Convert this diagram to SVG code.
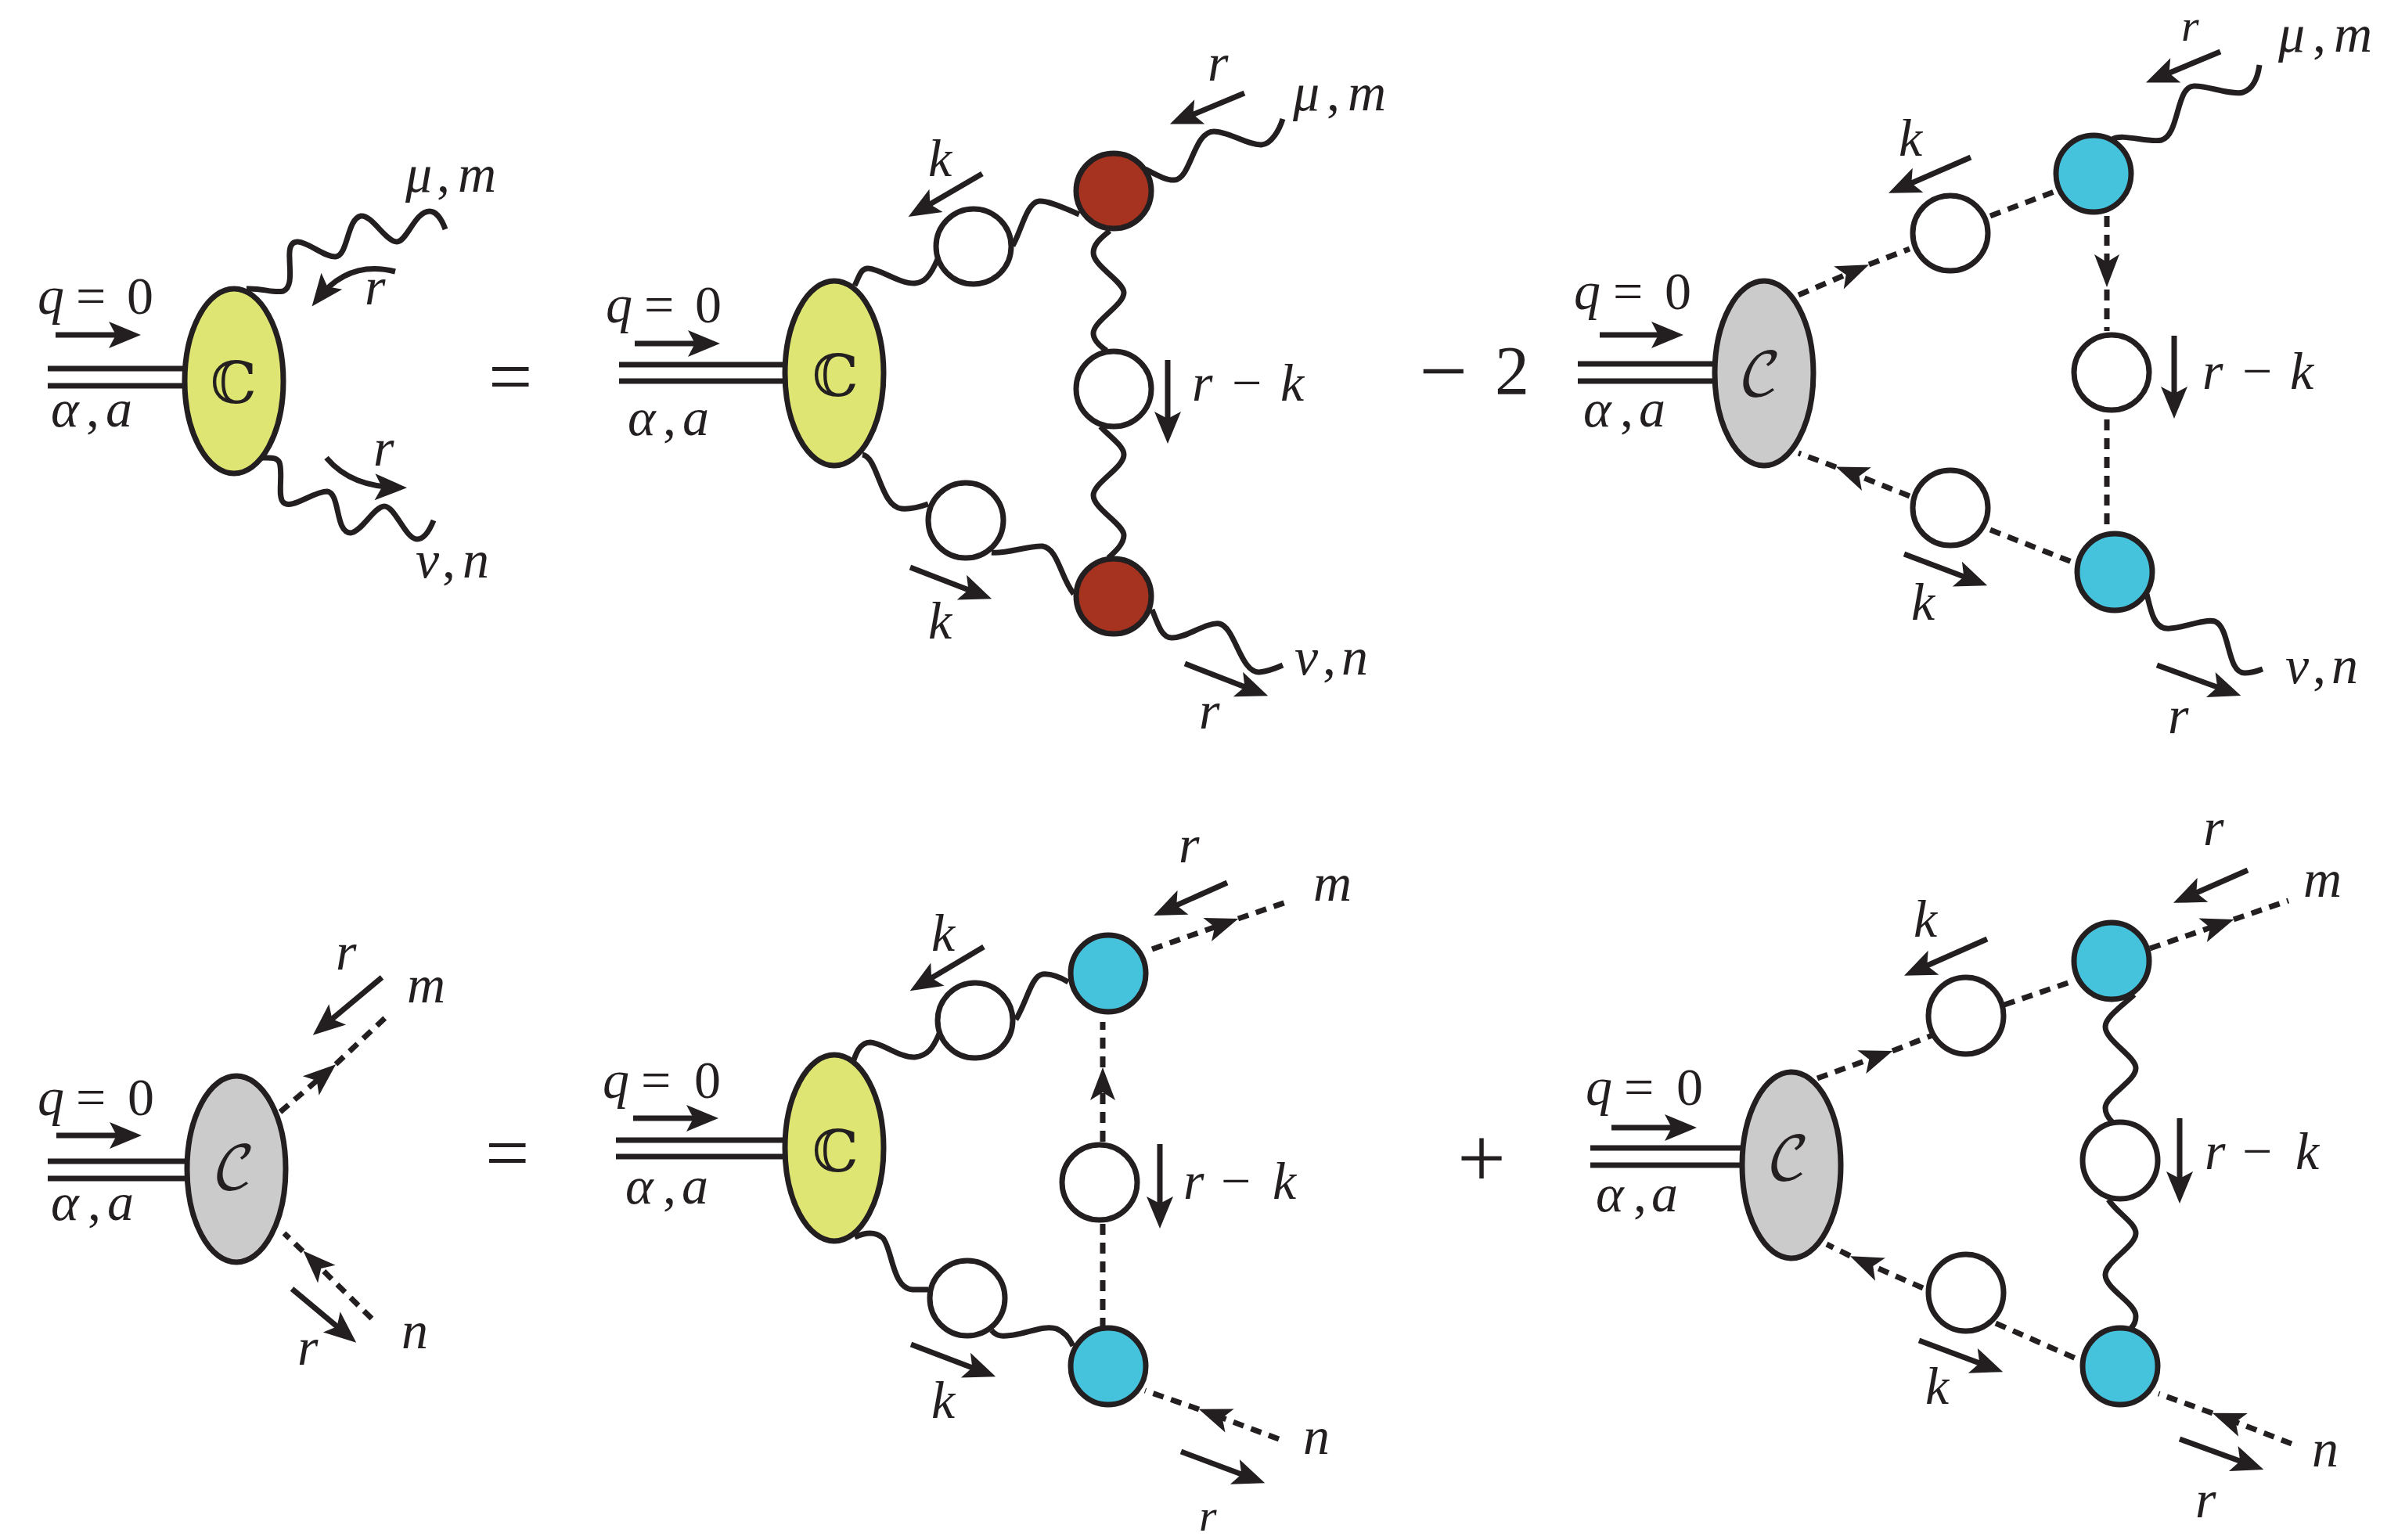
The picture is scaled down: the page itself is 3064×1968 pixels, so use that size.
<svg xmlns="http://www.w3.org/2000/svg" width="3064" height="1968" viewBox="0 0 3064 1968">
<style>
text{font-family:"Liberation Serif",serif;font-size:68px;fill:#231f20}
.i{font-style:italic}
.big{font-size:100px}
.op{font-size:110px;text-anchor:middle}
.two{font-size:88px}
.edge{font-size:58px}
.dbl{font-family:"DejaVu Math TeX Gyre","DejaVu Sans",sans-serif;font-size:74px;text-anchor:middle}
.cal{font-family:"DejaVu Math TeX Gyre","DejaVu Serif",serif;font-size:76px;text-anchor:middle}
path,line{fill:none;stroke:#231f20;stroke-width:7}
.d{stroke-dasharray:14 10}
.a{marker-end:url(#head)}
.da{marker-end:url(#dhead)}
.mh{fill:#231f20;stroke:none}
.y{fill:#dee572;stroke:#231f20;stroke-width:7}
.g{fill:#cbcbcb;stroke:#231f20;stroke-width:7}
.w{fill:#fff;stroke:#231f20;stroke-width:7}
.rd{fill:#a5331f;stroke:#231f20;stroke-width:7}
.b{fill:#45c2dc;stroke:#231f20;stroke-width:7}
</style>
<defs>
<marker id="head" markerUnits="userSpaceOnUse" markerWidth="42" markerHeight="36" refX="29" refY="17" orient="auto" overflow="visible"><path class="mh" d="M41 17L0 0L9 17L0 34z"/></marker>
<marker id="dhead" markerUnits="userSpaceOnUse" markerWidth="44" markerHeight="34" refX="30" refY="16" orient="auto" overflow="visible"><path class="mh" d="M42 16L0 0L10 16L0 32z"/></marker>
</defs>
<rect width="3064" height="1968" fill="#fff"/>
<g id="connectors">
<!-- panel 1 -->
<line x1="61" y1="471" x2="236" y2="471"/><line x1="61" y1="493" x2="236" y2="493"/>
<path d="M315 369C335 368 350 375 362 372C374 367 370 345 370 330C369 315 373 308 381 309C395 310 415 329 429 328C445 326 443 280 461 276C475 274 493 309 507 309C520 309 530 270 549 270C558 270 565 282 569 293"/>
<path d="M335 585C345 585 354 584 357 591C362 605 354 635 362 642C372 652 400 628 418 628C435 630 428 681 448 681C462 680 478 647 491 647C505 647 518 689 533 689C543 689 550 675 554 665"/>
<line class="a" x1="71" y1="428" x2="168" y2="428"/>
<path class="a" d="M505 347C470 338 435 345 406 382"/>
<path class="a" d="M417 585C440 612 470 622 508 623"/>
<!-- panel 2 -->
<line x1="791" y1="466" x2="1000" y2="466"/><line x1="791" y1="487" x2="1000" y2="487"/>
<path d="M1092 365C1098 353 1100 342 1110 343C1125 344 1150 363 1169 362C1180 361 1188 355 1198 331"/>
<path d="M1294 314C1305 295 1312 258 1328 257C1340 256 1365 268 1379 274"/>
<path d="M1463 216C1475 222 1490 231 1501 230C1522 228 1525 168 1551 168C1570 168 1595 186 1612 185C1625 184 1635 165 1639 152"/>
<path d="M1418 295C1405 305 1397 313 1397 323C1397 340 1436 360 1436 374C1436 390 1397 410 1397 426C1397 435 1405 442 1414 448"/>
<path d="M1406 545C1420 560 1436 570 1436 581C1436 598 1397 617 1397 633C1397 650 1436 670 1436 684C1436 695 1425 705 1416 713"/>
<path d="M1102 581C1122 584 1125 648 1152 650C1165 651 1175 648 1186 644"/>
<path d="M1267 706C1285 708 1315 697 1332 698C1352 701 1355 738 1372 759"/>
<path d="M1472 779C1480 800 1485 815 1497 815C1515 816 1540 795 1558 797C1578 801 1585 860 1609 859C1620 858 1630 854 1639 850"/>
<line class="a" x1="811" y1="439" x2="908" y2="439"/>
<line class="a" x1="1255" y1="222" x2="1171" y2="271"/>
<line class="a" x1="1590" y1="119" x2="1506" y2="154"/>
<line class="a" x1="1492" y1="460" x2="1492" y2="555"/>
<line class="a" x1="1163" y1="725" x2="1256" y2="761"/>
<line class="a" x1="1514" y1="848" x2="1609" y2="885"/>
<!-- panel 3 -->
<line x1="2016" y1="465" x2="2192" y2="465"/><line x1="2016" y1="487" x2="2192" y2="487"/>
<line class="d da" x1="2298" y1="377" x2="2377" y2="343"/><line class="d" x1="2388" y1="338" x2="2440" y2="318"/>
<line class="d" x1="2543" y1="276" x2="2630" y2="243"/>
<line class="d da" x1="2692" y1="276" x2="2692" y2="355"/><line class="d" x1="2692" y1="370" x2="2692" y2="423"/>
<line class="d" x1="2692" y1="536" x2="2692" y2="677"/>
<line class="d" x1="2543" y1="677" x2="2652" y2="720"/>
<line class="d da" x1="2440" y1="634" x2="2357" y2="601"/><line class="d" x1="2346" y1="597" x2="2298" y2="579"/>
<path d="M2699 178C2712 170 2745 183 2762 179C2785 172 2780 111 2803 110C2820 109 2850 122 2866 118C2880 113 2885 98 2887 83"/>
<path d="M2743 759C2748 780 2752 802 2768 803C2785 805 2815 790 2830 794C2850 802 2845 860 2868 860C2878 860 2885 857 2891 855"/>
<line class="a" x1="2044" y1="428" x2="2139" y2="428"/>
<line class="a" x1="2518" y1="201" x2="2424" y2="242"/>
<line class="a" x1="2837" y1="66" x2="2753" y2="101"/>
<line class="a" x1="2778" y1="429" x2="2778" y2="523"/>
<line class="a" x1="2433" y1="708" x2="2528" y2="744"/>
<line class="a" x1="2756" y1="850" x2="2852" y2="885"/>
<!-- panel 4 -->
<line x1="61" y1="1484" x2="238" y2="1484"/><line x1="61" y1="1506" x2="238" y2="1506"/>
<line class="d da" x1="358" y1="1421" x2="420" y2="1368"/><line class="d" x1="429" y1="1360" x2="494" y2="1299"/>
<line class="d da" x1="475" y1="1685" x2="396" y2="1607"/><line class="d" x1="387" y1="1599" x2="363" y2="1576"/>
<line class="a" x1="72" y1="1451" x2="169" y2="1451"/>
<line class="a" x1="488" y1="1249" x2="409" y2="1315"/>
<line class="a" x1="373" y1="1647" x2="446" y2="1708"/>
<!-- panel 5 -->
<line x1="787" y1="1457" x2="1000" y2="1457"/><line x1="787" y1="1478" x2="1000" y2="1478"/>
<path d="M1088 1364C1093 1347 1098 1332 1112 1332C1128 1333 1150 1352 1169 1351C1185 1349 1192 1340 1200 1321"/>
<path d="M1298 1303C1312 1280 1318 1247 1332 1245C1342 1244 1355 1249 1365 1255"/>
<path d="M1092 1581C1105 1575 1118 1573 1128 1582C1140 1595 1140 1647 1166 1648L1186 1648"/>
<path d="M1267 1700C1275 1710 1285 1707 1295 1706C1315 1703 1335 1693 1350 1698C1360 1702 1367 1711 1371 1720"/>
<line class="d da" x1="1472" y1="1213" x2="1571" y2="1178"/><line class="d" x1="1582" y1="1174" x2="1649" y2="1151"/>
<line class="d da" x1="1634" y1="1839" x2="1543" y2="1805"/><line class="d" x1="1532" y1="1801" x2="1463" y2="1777"/>
<line class="d da" x1="1409" y1="1459" x2="1409" y2="1376"/><line class="d" x1="1409" y1="1364" x2="1409" y2="1306"/>
<line class="d" x1="1409" y1="1564" x2="1409" y2="1697"/>
<line class="a" x1="809" y1="1429" x2="906" y2="1429"/>
<line class="a" x1="1257" y1="1210" x2="1173" y2="1260"/>
<line class="a" x1="1568" y1="1128" x2="1485" y2="1165"/>
<line class="a" x1="1482" y1="1462" x2="1482" y2="1558"/>
<line class="a" x1="1164" y1="1718" x2="1261" y2="1755"/>
<line class="a" x1="1509" y1="1855" x2="1605" y2="1891"/>
<!-- panel 6 -->
<line x1="2032" y1="1467" x2="2226" y2="1467"/><line x1="2032" y1="1489" x2="2226" y2="1489"/>
<line class="d da" x1="2322" y1="1378" x2="2407" y2="1347"/><line class="d" x1="2418" y1="1343" x2="2469" y2="1323"/>
<line class="d" x1="2561" y1="1284" x2="2651" y2="1253"/>
<line class="d da" x1="2747" y1="1212" x2="2843" y2="1179"/><line class="d" x1="2854" y1="1175" x2="2924" y2="1151"/>
<line class="d da" x1="2457" y1="1646" x2="2375" y2="1610"/><line class="d" x1="2364" y1="1605" x2="2334" y2="1590"/>
<line class="d" x1="2550" y1="1691" x2="2657" y2="1738"/>
<line class="d da" x1="2928" y1="1845" x2="2838" y2="1810"/><line class="d" x1="2827" y1="1806" x2="2758" y2="1781"/>
<path d="M2727 1271C2712 1285 2690 1300 2690 1312C2690 1330 2729 1350 2729 1365C2729 1382 2690 1400 2690 1416C2690 1423 2694 1429 2699 1434"/>
<path d="M2694 1533C2705 1550 2729 1563 2729 1576C2729 1593 2690 1612 2690 1629C2690 1647 2729 1665 2729 1682C2729 1688 2727 1693 2723 1697"/>
<line class="a" x1="2059" y1="1441" x2="2156" y2="1441"/>
<line class="a" x1="2539" y1="1200" x2="2444" y2="1242"/>
<line class="a" x1="2872" y1="1112" x2="2788" y2="1149"/>
<line class="a" x1="2785" y1="1429" x2="2785" y2="1526"/>
<line class="a" x1="2452" y1="1713" x2="2548" y2="1749"/>
<line class="a" x1="2785" y1="1839" x2="2881" y2="1874"/>
</g>
<g id="blob-c1"><ellipse class="y" cx="299" cy="487" rx="63" ry="118"/><text class="dbl" x="298" y="515">ℂ</text></g>
<g id="blob-c2"><ellipse class="y" cx="1066" cy="477" rx="63" ry="118"/><text class="dbl" x="1067" y="506">ℂ</text></g>
<g id="blob-c3"><ellipse class="g" cx="2254" cy="477" rx="63" ry="118"/><text class="cal" x="2249" y="505">𝒞</text></g>
<g id="blob-c4"><ellipse class="g" cx="302" cy="1494" rx="63" ry="119"/><text class="cal" x="299" y="1519">𝒞</text></g>
<g id="blob-c5"><ellipse class="y" cx="1066" cy="1467" rx="63" ry="119"/><text class="dbl" x="1067" y="1497">ℂ</text></g>
<g id="blob-c6"><ellipse class="g" cx="2289" cy="1489" rx="63" ry="119"/><text class="cal" x="2285" y="1507">𝒞</text></g>
<g id="p2-se-top"><ellipse class="w" cx="1244" cy="315" rx="48" ry="48"/></g>
<g id="p2-se-bot"><ellipse class="w" cx="1234" cy="665" rx="48" ry="48"/></g>
<g id="p2-se-mid"><ellipse class="w" cx="1423" cy="497" rx="48" ry="48"/></g>
<g id="p2-v-top"><ellipse class="rd" cx="1423" cy="244" rx="48" ry="48"/></g>
<g id="p2-v-bot"><ellipse class="rd" cx="1423" cy="762" rx="48" ry="48"/></g>
<g id="p3-se-top"><ellipse class="w" cx="2492" cy="298" rx="48" ry="48"/></g>
<g id="p3-se-bot"><ellipse class="w" cx="2492" cy="649" rx="48" ry="48"/></g>
<g id="p3-se-mid"><ellipse class="w" cx="2698" cy="476" rx="48" ry="48"/></g>
<g id="p3-v-top"><ellipse class="b" cx="2675" cy="222" rx="48" ry="49"/></g>
<g id="p3-v-bot"><ellipse class="b" cx="2702" cy="731" rx="48" ry="49"/></g>
<g id="p5-se-top"><ellipse class="w" cx="1246" cy="1304" rx="48" ry="48"/></g>
<g id="p5-se-bot"><ellipse class="w" cx="1236" cy="1659" rx="48" ry="48"/></g>
<g id="p5-se-mid"><ellipse class="w" cx="1405" cy="1511" rx="48" ry="48"/></g>
<g id="p5-v-top"><ellipse class="b" cx="1416" cy="1244" rx="48" ry="49"/></g>
<g id="p5-v-bot"><ellipse class="b" cx="1416" cy="1746" rx="48" ry="49"/></g>
<g id="p6-se-top"><ellipse class="w" cx="2512" cy="1298" rx="48" ry="49"/></g>
<g id="p6-se-bot"><ellipse class="w" cx="2512" cy="1652" rx="48" ry="49"/></g>
<g id="p6-se-mid"><ellipse class="w" cx="2709" cy="1483" rx="48" ry="49"/></g>
<g id="p6-v-top"><ellipse class="b" cx="2698" cy="1228" rx="48" ry="49"/></g>
<g id="p6-v-bot"><ellipse class="b" cx="2709" cy="1746" rx="48" ry="49"/></g>
<g id="labels">
<!-- panel 1 -->
<text y="401"><tspan class="i" x="48">q</tspan><tspan x="97">=</tspan><tspan x="162">0</tspan></text>
<text y="545"><tspan class="i" x="65">α</tspan><tspan x="110">,</tspan><tspan class="i" x="135">a</tspan></text>
<text y="245"><tspan class="i" x="518">μ</tspan><tspan x="558">,</tspan><tspan class="i" x="585">m</tspan></text>
<text y="738"><tspan class="i" x="531">ν</tspan><tspan x="565">,</tspan><tspan class="i" x="591">n</tspan></text>
<text class="i" x="466" y="389">r</text>
<text class="i" x="477" y="595">r</text>
<text class="big" x="624" y="515">=</text>
<!-- panel 2 -->
<text y="412"><tspan class="i" x="774">q</tspan><tspan x="823">=</tspan><tspan x="888">0</tspan></text>
<text y="556"><tspan class="i" x="802">α</tspan><tspan x="847">,</tspan><tspan class="i" x="872">a</tspan></text>
<text y="141"><tspan class="i" x="1652">μ</tspan><tspan x="1695">,</tspan><tspan class="i" x="1722">m</tspan></text>
<text y="862"><tspan class="i" x="1654">ν</tspan><tspan x="1690">,</tspan><tspan class="i" x="1714">n</tspan></text>
<text class="i" x="1186" y="225">k</text>
<text class="i" x="1543" y="103">r</text>
<text y="512"><tspan class="i" x="1523">r</tspan><tspan x="1574">−</tspan><tspan class="i" x="1636">k</tspan></text>
<text class="i" x="1186" y="816">k</text>
<text class="i" x="1532" y="931">r</text>
<text class="op" x="1844" y="511">−</text>
<text class="two" x="1910" y="503">2</text>
<!-- panel 3 -->
<text y="395"><tspan class="i" x="2011">q</tspan><tspan x="2061">=</tspan><tspan x="2127">0</tspan></text>
<text y="545"><tspan class="i" x="2023">α</tspan><tspan x="2070">,</tspan><tspan class="i" x="2094">a</tspan></text>
<text y="66"><tspan class="i" x="2911">μ</tspan><tspan x="2955">,</tspan><tspan class="i" x="2982">m</tspan></text>
<text y="873"><tspan class="i" x="2920">ν</tspan><tspan x="2955">,</tspan><tspan class="i" x="2979">n</tspan></text>
<text class="i" x="2426" y="199">k</text>
<text class="i edge" x="2787" y="52">r</text>
<text y="497"><tspan class="i" x="2814">r</tspan><tspan x="2865">−</tspan><tspan class="i" x="2926">k</tspan></text>
<text class="i" x="2442" y="792">k</text>
<text class="i" x="2770" y="937">r</text>
<!-- panel 4 -->
<text y="1425"><tspan class="i" x="48">q</tspan><tspan x="97">=</tspan><tspan x="163">0</tspan></text>
<text y="1559"><tspan class="i" x="65">α</tspan><tspan x="112">,</tspan><tspan class="i" x="137">a</tspan></text>
<text class="i" x="429" y="1239">r</text>
<text class="i" x="520" y="1281">m</text>
<text class="i" x="513" y="1723">n</text>
<text class="i" x="380" y="1744">r</text>
<text class="big" x="620" y="1507">=</text>
<!-- panel 5 -->
<text y="1403"><tspan class="i" x="770">q</tspan><tspan x="819">=</tspan><tspan x="887">0</tspan></text>
<text y="1538"><tspan class="i" x="799">α</tspan><tspan x="847">,</tspan><tspan class="i" x="871">a</tspan></text>
<text class="i" x="1190" y="1215">k</text>
<text class="i" x="1506" y="1102">r</text>
<text class="i" x="1678" y="1151">m</text>
<text y="1532"><tspan class="i" x="1512">r</tspan><tspan x="1560">−</tspan><tspan class="i" x="1626">k</tspan></text>
<text class="i" x="1190" y="1812">k</text>
<text class="i" x="1665" y="1858">n</text>
<text class="i edge" x="1532" y="1956">r</text>
<text class="op" x="1893" y="1517">+</text>
<!-- panel 6 -->
<text y="1412"><tspan class="i" x="2026">q</tspan><tspan x="2075">=</tspan><tspan x="2142">0</tspan></text>
<text y="1548"><tspan class="i" x="2039">α</tspan><tspan x="2087">,</tspan><tspan class="i" x="2110">a</tspan></text>
<text class="i" x="2445" y="1197">k</text>
<text class="i" x="2815" y="1080">r</text>
<text class="i" x="2943" y="1146">m</text>
<text y="1494"><tspan class="i" x="2817">r</tspan><tspan x="2865">−</tspan><tspan class="i" x="2933">k</tspan></text>
<text class="i" x="2460" y="1794">k</text>
<text class="i" x="2954" y="1874">n</text>
<text class="i" x="2805" y="1939">r</text>
</g>
</svg>
